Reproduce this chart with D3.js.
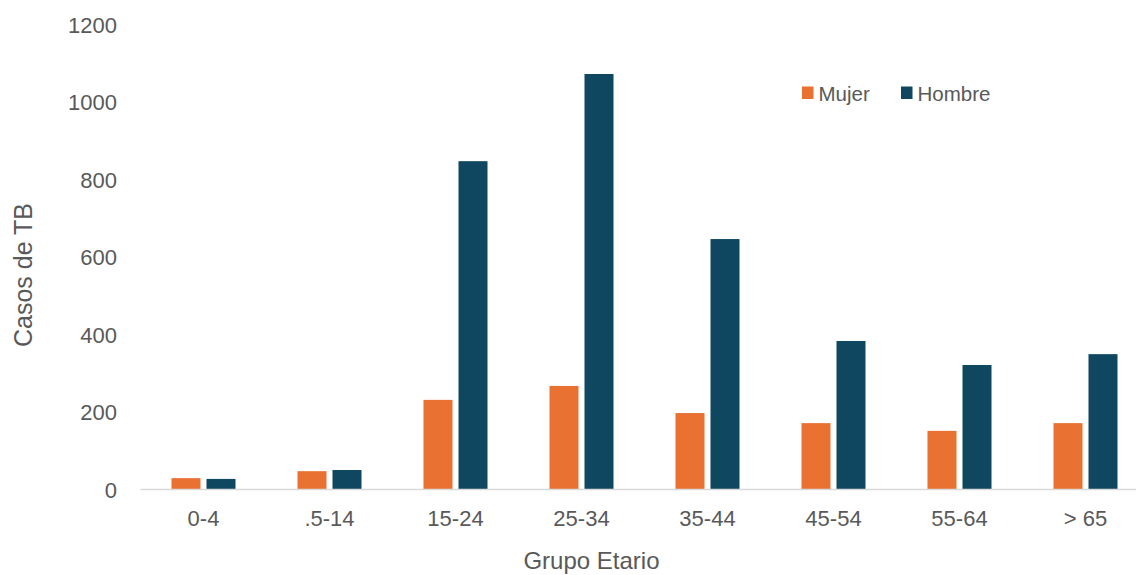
<!DOCTYPE html>
<html>
<head>
<meta charset="utf-8">
<script src="https://cdn.jsdelivr.net/npm/d3@7"></script>
<style>
  html, body { margin: 0; padding: 0; background: #fff; }
  svg { display: block; font-family: "Liberation Sans", Arial, sans-serif; }
</style>
</head>
<body>
<svg id="chart" width="1136" height="575"></svg>
<script>
const categories = ["0-4", ".5-14", "15-24", "25-34", "35-44", "45-54", "55-64", "> 65"];
const seriesNames = ["Mujer", "Hombre"];
const mujer = [28, 46, 230, 266, 196, 170, 150, 170];
const hombre = [26, 49, 846, 1071, 645, 382, 320, 348];
const yTicks = [0, 200, 400, 600, 800, 1000, 1200];
const colors = ["#E97132", "#0F4761"];

const svg = d3.select("#chart");
const x0 = 140.5, x1 = 1148.5, yTop = 24, yBase = 489;

const x = d3.scaleBand().domain(categories).range([x0, x1]).paddingInner(0).paddingOuter(0);
const xs = d3.scaleBand().domain(seriesNames).range([31, x.bandwidth() - 31]).paddingInner(6 / 35);
const y = d3.scaleLinear().domain([0, 1200]).range([yBase, yTop]);

const table = categories.map((c, i) => ({ cat: c, values: [mujer[i], hombre[i]] }));

const groups = svg.append("g").selectAll("g").data(table).join("g")
  .attr("transform", d => `translate(${x(d.cat)},0)`);
groups.selectAll("rect").data(d => d.values.map((v, j) => ({ name: seriesNames[j], v, j })))
  .join("rect")
  .attr("x", d => xs(d.name))
  .attr("width", xs.bandwidth())
  .attr("y", d => y(d.v))
  .attr("height", d => y(0) - y(d.v))
  .attr("fill", d => colors[d.j]);

// x axis line
svg.append("line").attr("x1", x0).attr("x2", 1136).attr("y1", yBase + 0.5).attr("y2", yBase + 0.5)
  .attr("stroke", "#D9D9D9").attr("stroke-width", 1.5);

// x tick labels
const xAxis = d3.axisBottom(x).tickSize(0).tickPadding(0);
const gx = svg.append("g").attr("transform", `translate(0,${yBase})`).call(xAxis);
gx.select(".domain").remove();
gx.selectAll("text").attr("fill", "#595959").attr("font-size", "22px")
  .attr("font-family", "Liberation Sans, Arial, sans-serif").attr("dy", null).attr("y", 37);

// y tick labels
const yAxis = d3.axisLeft(y).tickValues(yTicks).tickSize(0).tickPadding(0).tickFormat(d3.format("d"));
const gy = svg.append("g").attr("transform", "translate(117,0)").call(yAxis);
gy.select(".domain").remove();
gy.selectAll("text").attr("fill", "#595959").attr("font-size", "22px")
  .attr("font-family", "Liberation Sans, Arial, sans-serif").attr("dy", "0.38em").attr("x", 0);

// axis titles
svg.append("text").attr("x", 591.5).attr("y", 569).attr("text-anchor", "middle")
  .attr("fill", "#595959").attr("font-size", "24px").text("Grupo Etario");
svg.append("text").attr("transform", "translate(32,275) rotate(-90)").attr("text-anchor", "middle")
  .attr("fill", "#595959").attr("font-size", "25px").text("Casos de TB");

// legend
const legendX = [802, 901];
const leg = svg.append("g").selectAll("g").data(seriesNames).join("g")
  .attr("transform", (d, i) => `translate(${legendX[i]},0)`);
leg.append("rect").attr("x", 0).attr("y", 86.5).attr("width", 11.5).attr("height", 12.5)
  .attr("fill", (d, i) => colors[i]);
leg.append("text").attr("x", 16.5).attr("y", 100.5).attr("fill", "#595959").attr("font-size", "20.5px")
  .text(d => d);
</script>
</body>
</html>
